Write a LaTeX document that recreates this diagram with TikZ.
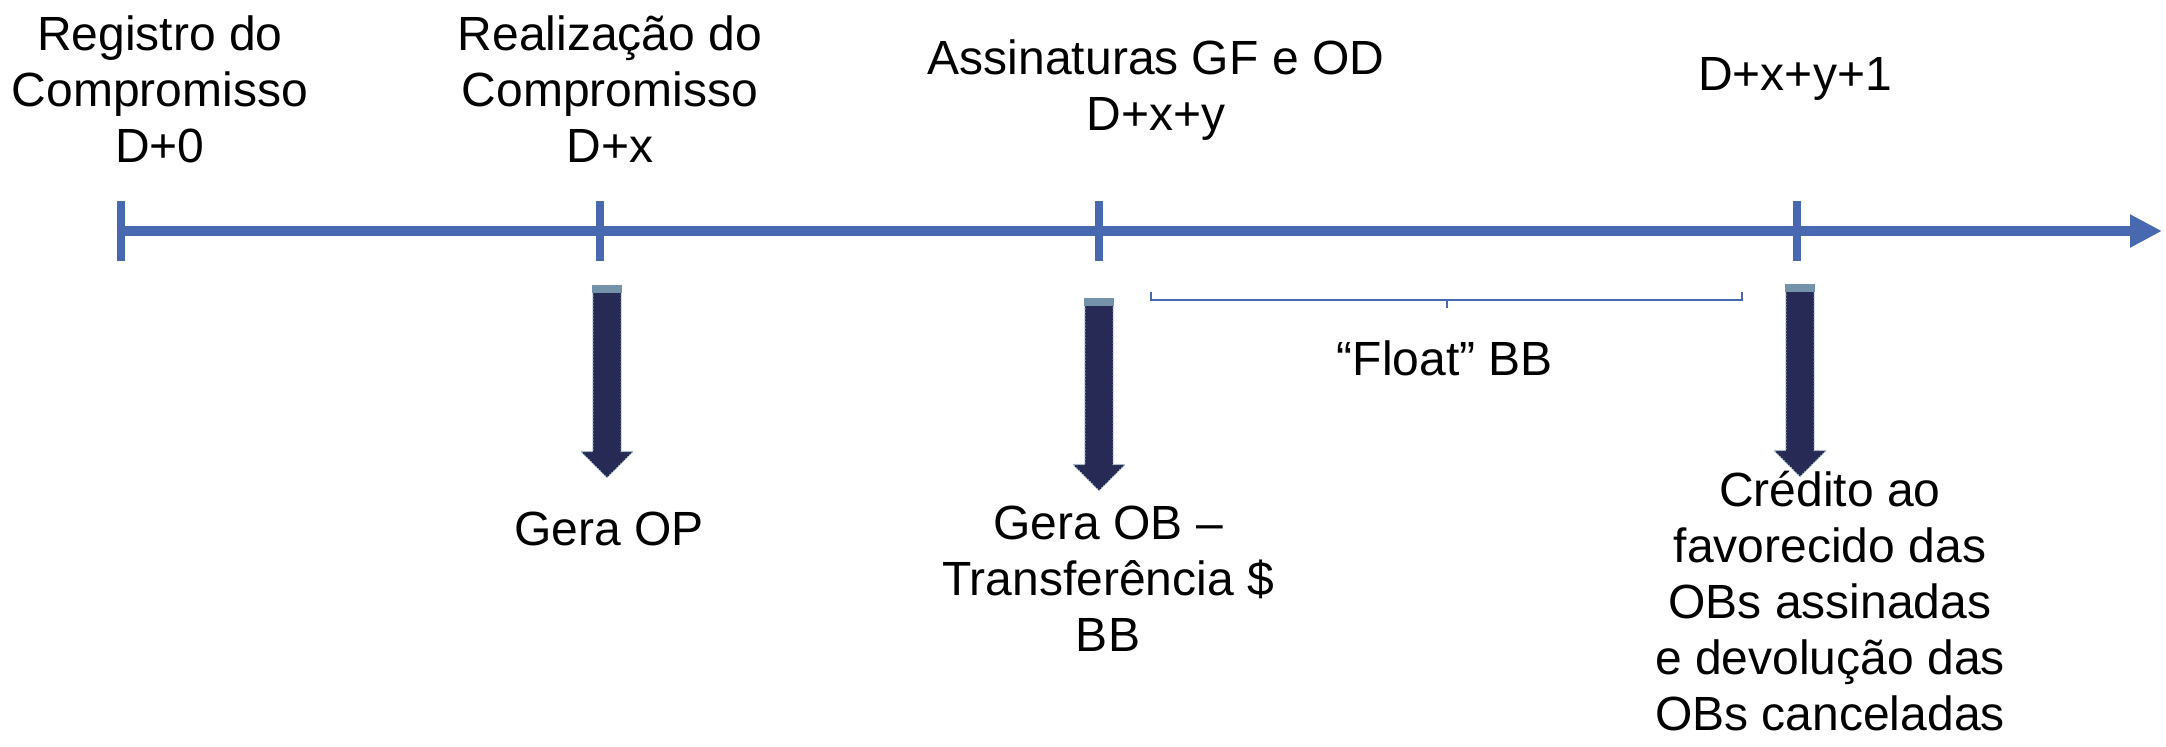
\documentclass[tikz,border=0pt]{standalone}
\usepackage{fontspec}
\setmainfont{Liberation Sans}
\usetikzlibrary{arrows.meta,shapes.arrows}

\definecolor{axisblue}{RGB}{72,104,175}
\definecolor{arrownavy}{RGB}{38,42,85}
\definecolor{arrowedge}{RGB}{150,192,206}

\begin{document}
\begin{tikzpicture}[x=0.5pt, y=-0.5pt,
    every node/.style={font=\fontsize{24}{28}\selectfont},
    lbl/.style={anchor=north, inner sep=0pt, align=center, execute at begin node=\strut},
    tick/.style={axisblue, line width=4pt},
    bracket/.style={axisblue, line width=1pt},
    dnarrow/.style={single arrow, shape border rotate=270, anchor=tail, fill=arrownavy,
      draw=arrowedge, densely dotted, line width=0.6pt,
      text height=0pt, text depth=0pt, text width=0pt, inner sep=6.75pt,
      minimum height=96pt,
      single arrow head extend=6pt, single arrow tip angle=90}]
    \useasboundingbox (0,0) rectangle (2166,746);

    % time line
    \coordinate (t0) at (121,231);
    \coordinate (t1) at (600,231);
    \coordinate (t2) at (1099,231);
    \coordinate (t3) at (1797,231);
    \coordinate (tend) at (2162,231);
    \draw[axisblue, line width=5pt, -{Triangle[length=16pt, width=15.5pt]}] (t0) -- (tend);
    \foreach \t in {t0,t1,t2,t3}
      \draw[tick] ([yshift=15pt]\t) -- ([yshift=-15pt]\t);

    % labels above
    \node[lbl] (reg) at (160,15) {Registro do\\Compromisso\\D+0};
    \node[lbl] (real) at (610,15) {Realização do\\Compromisso\\D+x};
    \node[lbl] (assin) at (1156,39) {Assinaturas GF e OD\\D+x+y};
    \node[lbl] (dxy1) at (1795,51) {D+x+y+1};

    % block arrows
    \node[dnarrow] (opArrow) at (607,285) {};
    \node[dnarrow] (obArrow) at (1099,298) {};
    \node[dnarrow] (crArrow) at (1800,284) {};
    \foreach \a in {opArrow,obArrow,crArrow}
      \fill[arrowedge!70!arrownavy] (\a.before tail) rectangle ([yshift=-4pt]\a.after tail);

    % float bracket
    \coordinate (fl) at (1151,300);
    \coordinate (fr) at (1742,300);
    \coordinate (fm) at (1447,300);
    \draw[bracket] ([yshift=4pt]fl) -- (fl) -- (fr) -- ([yshift=4pt]fr);
    \draw[bracket] (fm) -- ([yshift=-4pt]fm);
    \node[lbl] (float) at (1445,336) {“Float” BB};

    % labels below
    \node[lbl] (geraop) at (609,506) {Gera OP};
    \node[lbl] (geraob) at (1108,506) {Gera OB –\\Transferência \$\\BB};
    \node[lbl] (credito) at (1830,471) {Crédito ao\\favorecido das\\OBs assinadas\\e devolução das\\OBs canceladas};
\end{tikzpicture}
\end{document}
